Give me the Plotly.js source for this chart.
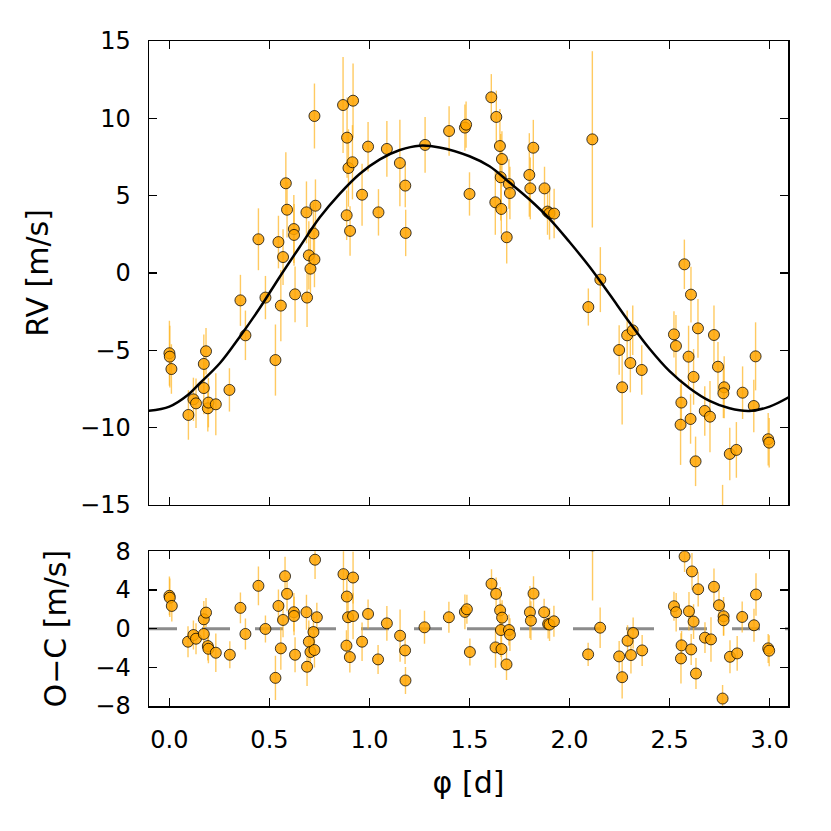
<!DOCTYPE html>
<html>
<head>
<meta charset="utf-8">
<script src="https://cdn.plot.ly/plotly-3.0.1.min.js"></script>
<style>html,body{margin:0;padding:0;background:#fff;}#chart{width:831px;height:831px;}</style>
</head>
<body>
<div id="chart"></div>
<script>
// ---- RV data (top panel) ----
const rvPhase = [0.000,0.002,0.010,0.095,0.120,0.133,0.172,0.172,0.183,0.192,0.195,0.232,0.300,0.355,0.380,0.445,0.480,0.530,0.545,0.557,0.568,0.582,0.588,0.622,0.623,0.628,0.685,0.688,0.697,0.705,0.720,0.725,0.725,0.730,0.868,0.918,0.888,0.895,0.915,0.886,0.903,0.963,0.993,1.045,1.087,1.152,1.179,1.181,1.278,1.398,1.477,1.483,1.500,1.609,1.634,1.652,1.662,1.656,1.697,1.702,1.629,1.659,1.686,1.799,1.819,1.804,1.875,1.890,1.900,1.923,2.114,2.154,2.094,2.248,2.263,2.288,2.316,2.304,2.361,2.522,2.532,2.574,2.595,2.607,2.642,2.620,2.559,2.555,2.605,2.630,2.676,2.702,2.722,2.742,2.773,2.769,2.865,2.801,2.834,2.921,2.930,2.993,2.998,2.765];
const rvValue = [-5.19,-5.41,-6.21,-9.18,-8.17,-8.43,-7.44,-5.88,-5.06,-8.75,-8.38,-8.49,-7.56,-1.77,-4.03,2.18,-1.59,-5.63,2.00,-2.11,1.03,5.80,4.09,2.84,2.46,-1.38,3.92,-1.59,1.14,0.28,2.56,0.88,10.15,4.35,10.86,11.14,8.75,6.79,7.16,3.73,2.72,5.06,8.17,3.92,8.02,7.11,5.65,2.59,8.28,9.18,9.40,9.59,5.11,11.36,10.09,8.21,7.37,6.19,5.75,5.17,4.57,4.14,2.31,6.34,8.10,5.47,5.47,3.97,3.86,3.84,8.64,-0.43,-2.20,-4.98,-7.39,-4.03,-3.71,-5.82,-6.27,-3.97,-4.72,0.56,-5.41,-1.40,-3.58,-6.72,-8.38,-9.81,-9.44,-12.18,-8.92,-9.29,-4.01,-6.06,-7.39,-7.78,-7.74,-11.70,-11.44,-8.60,-5.39,-10.75,-10.97,-16.0];
const rvError = [2.1,2.0,1.6,1.6,1.4,1.6,1.7,1.9,1.5,1.5,1.6,2.0,1.4,1.65,1.6,2.0,1.4,2.3,1.7,2.3,1.8,2.0,1.8,2.2,2.0,1.8,2.0,1.9,2.2,2.0,2.0,1.8,2.1,1.7,3.1,2.4,2.6,2.5,2.4,1.6,1.6,2.0,1.6,1.5,1.8,2.8,1.4,1.5,1.8,1.6,1.5,1.5,1.4,1.5,1.7,2.4,1.8,2.8,1.6,1.7,2.1,1.6,1.7,2.7,1.8,2.0,1.4,1.5,1.7,1.6,5.7,2.1,1.2,1.6,2.4,1.6,1.6,1.9,1.6,1.5,2.0,1.6,2.0,1.8,1.9,1.8,1.5,2.6,1.6,1.6,1.6,2.3,1.9,1.6,2.0,1.6,1.7,1.7,1.8,1.7,2.2,1.7,1.6,2.3];

// ---- Model curve ----
const modelPhase = [-0.108,0.000,0.092,0.152,0.252,0.352,0.451,0.552,0.652,0.752,0.851,0.952,1.052,1.152,1.250,1.350,1.500,1.600,1.700,1.800,1.900,2.000,2.100,2.200,2.300,2.400,2.500,2.600,2.700,2.800,2.900,3.000,3.100];
const modelRV    = [-8.92,-8.64,-7.89,-7.13,-5.84,-4.12,-2.28,-0.24,1.70,3.60,5.12,6.42,7.35,7.95,8.23,8.12,7.55,6.90,5.85,4.75,3.50,2.00,0.40,-1.38,-3.20,-4.90,-6.35,-7.45,-8.27,-8.75,-8.92,-8.64,-8.00];

// ---- Residuals (bottom panel) ----
const ocPhase = [0.000,0.002,0.012,0.093,0.120,0.133,0.172,0.172,0.183,0.192,0.195,0.232,0.302,0.355,0.380,0.445,0.480,0.530,0.545,0.557,0.568,0.578,0.588,0.622,0.623,0.628,0.685,0.688,0.697,0.705,0.720,0.725,0.728,0.737,0.870,0.918,0.887,0.893,0.918,0.885,0.902,0.963,0.993,1.043,1.087,1.153,1.178,1.180,1.275,1.397,1.477,1.487,1.502,1.610,1.633,1.653,1.663,1.657,1.697,1.702,1.630,1.660,1.685,1.820,1.802,1.807,1.873,1.893,1.900,1.922,2.093,2.153,2.115,2.248,2.263,2.290,2.307,2.318,2.363,2.522,2.533,2.575,2.560,2.557,2.597,2.612,2.620,2.608,2.632,2.643,2.677,2.707,2.722,2.747,2.770,2.770,2.765,2.802,2.838,2.863,2.922,2.932,2.993,2.998];
const ocValue = [3.40,3.20,2.35,-1.35,-0.66,-1.04,-0.55,0.97,1.66,-1.80,-2.08,-2.49,-2.70,2.15,-0.55,4.43,-0.03,-5.09,2.35,-2.04,0.90,5.43,3.60,1.70,1.31,-2.70,1.70,-3.94,-1.35,-2.42,-0.35,-2.21,7.13,1.18,5.64,5.29,3.32,1.18,1.31,-1.76,-2.94,-1.35,1.52,-3.18,0.55,-0.73,-2.25,-5.36,0.14,1.18,1.73,2.01,-2.42,4.64,3.60,1.90,1.14,-0.14,-0.14,-0.62,-1.94,-2.11,-3.70,3.63,1.70,0.83,1.70,0.48,0.42,0.76,-2.66,0.10,8.60,-2.87,-5.02,-1.25,-2.73,-0.45,-2.25,2.32,1.70,7.47,-1.73,-3.08,1.80,5.92,0.73,-2.15,-4.64,4.08,-0.93,-1.11,4.33,2.42,1.28,0.87,-7.23,-2.91,-2.56,1.21,0.35,3.53,-2.04,-2.28];
const ocError = [2.0,2.0,1.6,1.6,1.5,1.6,1.7,1.9,1.5,1.5,1.5,2.0,1.4,1.6,1.6,2.0,1.4,2.3,1.7,2.2,1.8,2.0,1.8,2.0,2.0,1.8,1.8,2.0,2.2,2.0,2.0,1.8,2.0,1.5,2.8,2.7,2.6,2.5,2.4,1.6,1.6,2.0,1.5,1.5,1.8,2.7,1.4,1.4,1.7,1.6,1.8,1.5,1.4,1.5,1.7,2.4,1.8,2.8,1.6,1.7,2.1,1.6,1.6,1.8,2.7,2.0,1.4,1.5,1.7,1.6,1.2,2.1,5.7,1.6,2.2,1.6,1.9,1.6,1.6,1.5,2.0,1.6,1.5,2.6,2.0,1.9,1.8,1.6,1.6,1.8,1.6,2.3,1.9,1.6,2.0,1.6,1.4,1.7,1.8,1.6,1.7,2.2,1.5,1.6];

// ---- Axis settings ----
const phaseRange = [-0.102, 3.092];
const phaseTicks = [0.0, 0.5, 1.0, 1.5, 2.0, 2.5, 3.0];
const rvRange = [-15, 15];
const rvTicks = [-15, -10, -5, 0, 5, 10, 15];
const ocRange = [-8, 8];
const ocTicks = [-8, -4, 0, 4, 8];

const FONT = 'DejaVu Sans, Liberation Sans, sans-serif';
const markerStyle = {size: 11, color: 'rgba(255,165,0,0.85)', line: {color: 'rgba(0,0,0,0.75)', width: 1}};
const errStyle = (arr) => ({type: 'data', array: arr, visible: true, color: 'rgba(255,180,30,0.7)', thickness: 1.4, width: 0});

const traces = [
  {x: rvPhase, y: rvValue, xaxis: 'x2', yaxis: 'y', type: 'scatter', mode: 'markers',
   marker: markerStyle, error_y: errStyle(rvError), showlegend: false, cliponaxis: true},
  {x: modelPhase, y: modelRV, xaxis: 'x2', yaxis: 'y', type: 'scatter', mode: 'lines',
   line: {color: '#000', width: 2.5, shape: 'spline', smoothing: 1}, showlegend: false},
  {x: phaseRange, y: [0, 0], xaxis: 'x', yaxis: 'y2', type: 'scatter', mode: 'lines',
   line: {color: 'rgba(128,128,128,0.9)', width: 3, dash: '28px,25px'}, showlegend: false},
  {x: ocPhase, y: ocValue, xaxis: 'x', yaxis: 'y2', type: 'scatter', mode: 'markers',
   marker: markerStyle, error_y: errStyle(ocError), showlegend: false, cliponaxis: true}
];

const axCommon = {
  showline: true, linecolor: '#000', linewidth: 1.5, mirror: 'ticks',
  ticks: 'inside', ticklen: 8, tickwidth: 1.5, tickcolor: '#000',
  showgrid: false, zeroline: false,
  tickfont: {family: FONT, size: 24, color: '#000'}
};

const layout = {
  width: 831, height: 831,
  margin: {l: 149, r: 43, t: 41, b: 125},
  paper_bgcolor: '#fff', plot_bgcolor: '#fff',
  font: {family: FONT, color: '#000'},
  xaxis: Object.assign({}, axCommon, {
    anchor: 'y2', domain: [0, 1], range: phaseRange,
    tickvals: phaseTicks, tickformat: '.1f', ticklabelstandoff: 12,
    title: {text: 'φ [d]', font: {family: FONT, size: 30, color: '#000'}, standoff: 18}
  }),
  xaxis2: Object.assign({}, axCommon, {
    anchor: 'y', domain: [0, 1], range: phaseRange, matches: 'x',
    tickvals: phaseTicks, showticklabels: false
  }),
  yaxis: Object.assign({}, axCommon, {
    anchor: 'x2', domain: [0.3023, 1], range: rvRange,
    tickvals: rvTicks, ticklabelstandoff: 12,
    title: {text: 'RV [m/s]', font: {family: FONT, size: 30, color: '#000'}, standoff: 22}
  }),
  yaxis2: Object.assign({}, axCommon, {
    anchor: 'x', domain: [0, 0.2326], range: ocRange,
    tickvals: ocTicks, ticklabelstandoff: 12,
    title: {text: 'O−C [m/s]', font: {family: FONT, size: 30, color: '#000'}, standoff: 20}
  })
};

Plotly.newPlot('chart', traces, layout, {displayModeBar: false, staticPlot: true});
</script>
</body>
</html>
